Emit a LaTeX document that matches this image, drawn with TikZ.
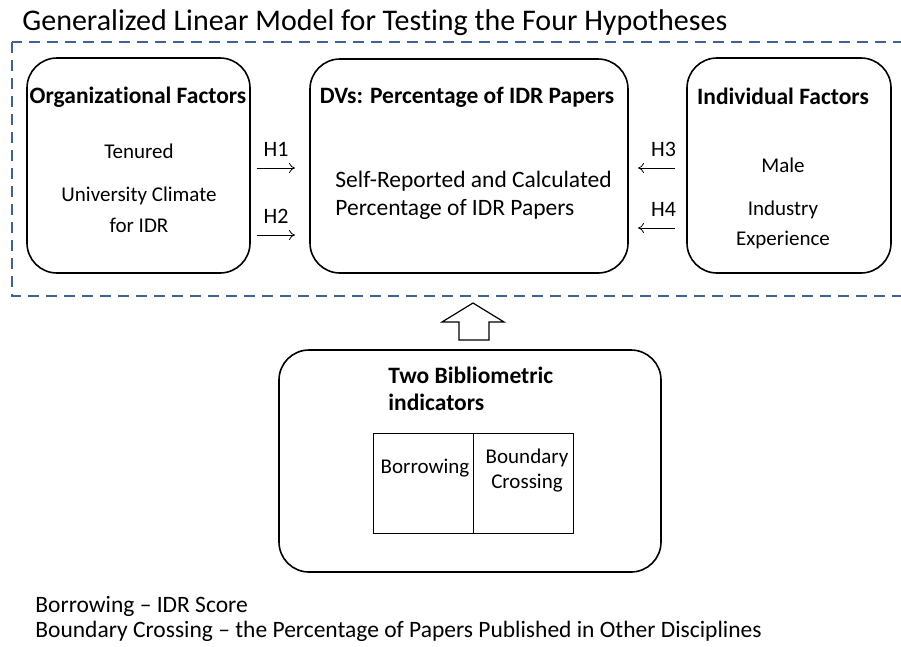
\documentclass[tikz,border=0pt]{standalone}
\usepackage{fontspec}
\setmainfont{Carlito}[Ligatures=NoCommon]
\usepackage{tikz}
\usetikzlibrary{calc,arrows.meta}
\definecolor{frameblue}{RGB}{62,98,148}

\begin{document}
\begin{tikzpicture}[x=1pt, y=-1pt, thick, black,
    box/.style={draw, line width=1.6pt, rounded corners=30pt, inner sep=0pt},
    cell/.style={draw, line width=0.9pt, minimum width=100pt, minimum height=100pt, inner sep=0pt},
    txt/.style={anchor=base, inner sep=0pt, font=\fontsize{21}{25}\selectfont},
    big/.style={anchor=base west, inner sep=0pt, font=\fontsize{23.5}{28}\selectfont},
    head/.style={anchor=base, inner sep=0pt, font=\fontsize{23.5}{28}\selectfont\bfseries},
    hyp/.style={-{To[length=6pt,width=10pt]}, line width=0.8pt}]

    \useasboundingbox (0,0) rectangle (901,646);

    %title
    \node[anchor=base west, inner sep=0pt, font=\fontsize{30}{36}\selectfont] (title) at (22,30)
    {Generalized Linear Model for Testing the Four Hypotheses};

    %dashed frame
    \draw[frameblue, line width=2.2pt, dash pattern=on 11pt off 7pt] (12,42) rectangle (906,296);

    %boxes
    \node[box, minimum width=223pt, minimum height=215pt] (org) at (138.5,165.5) {};
    \node[box, minimum width=318pt, minimum height=214pt] (dv) at (469,166) {};
    \node[box, minimum width=204pt, minimum height=215pt] (ind) at (789,165.5) {};
    \node[box, minimum width=382pt, minimum height=222pt] (biblio) at (470,461) {};

    %headings
    \node[head] (orghead) at (138,103) {Organizational Factors};
    \node[head] (dvhead) at (467,103) {DVs: Percentage of IDR Papers};
    \node[head] (indhead) at (783,104) {Individual Factors};

    %organizational
    \node[txt] (tenured) at (139,158) {Tenured};
    \node[txt] (climate) at (139,201) {University Climate};
    \node[txt] (climate2) at (139,232) {for IDR};

    %dv
    \node[big] (self) at (335,187) {Self-Reported and Calculated};
    \node[big] (calc) at (335,215) {Percentage of IDR Papers};

    %individual
    \node[txt] (male) at (783,172) {Male};
    \node[txt] (industry) at (783,215) {Industry};
    \node[txt] (industry2) at (783,245) {Experience};

    %hypotheses
    \coordinate (h1a) at (257,168); \coordinate (h1b) at (295,168);
    \coordinate (h2a) at (257,235); \coordinate (h2b) at (295,235);
    \coordinate (h3a) at (675,168); \coordinate (h3b) at (638,168);
    \coordinate (h4a) at (675,228); \coordinate (h4b) at (638,228);
    \foreach \a/\b/\lab/\dx in {h1a/h1b/H1/0, h2a/h2b/H2/0, h3a/h3b/H3/7, h4a/h4b/H4/7}{
    	\draw[hyp] (\a) -- (\b) node[midway, above=11pt, xshift=\dx pt, inner sep=0pt, font=\fontsize{22}{26}\selectfont] {\lab};
    }

    %block arrow
    \draw[line width=1.2pt] (459,340) -- (459,322) -- (442,322) -- (473,303) -- (504,322) -- (489,322) -- (489,340) -- cycle;

    %bibliometric
    \node[head, anchor=base west] (bibhead) at (388,383) {Two Bibliometric};
    \node[head, anchor=base west] (bibhead2) at (388,410) {indicators};
    \node[cell] (borrow) at (423,483) {};
    \node[cell] (cross) at (523,483) {};
    \node[txt] (borrowtxt) at (425,473) {Borrowing};
    \node[txt] (crosstxt) at (527,463) {Boundary};
    \node[txt] (crosstxt2) at (527,488) {Crossing};

    %notes
    \node[big] (note1) at (35,612) {Borrowing – IDR Score};
    \node[big] (note2) at (35,637) {Boundary Crossing – the Percentage of Papers Published in Other Disciplines};

\end{tikzpicture}
\end{document}
